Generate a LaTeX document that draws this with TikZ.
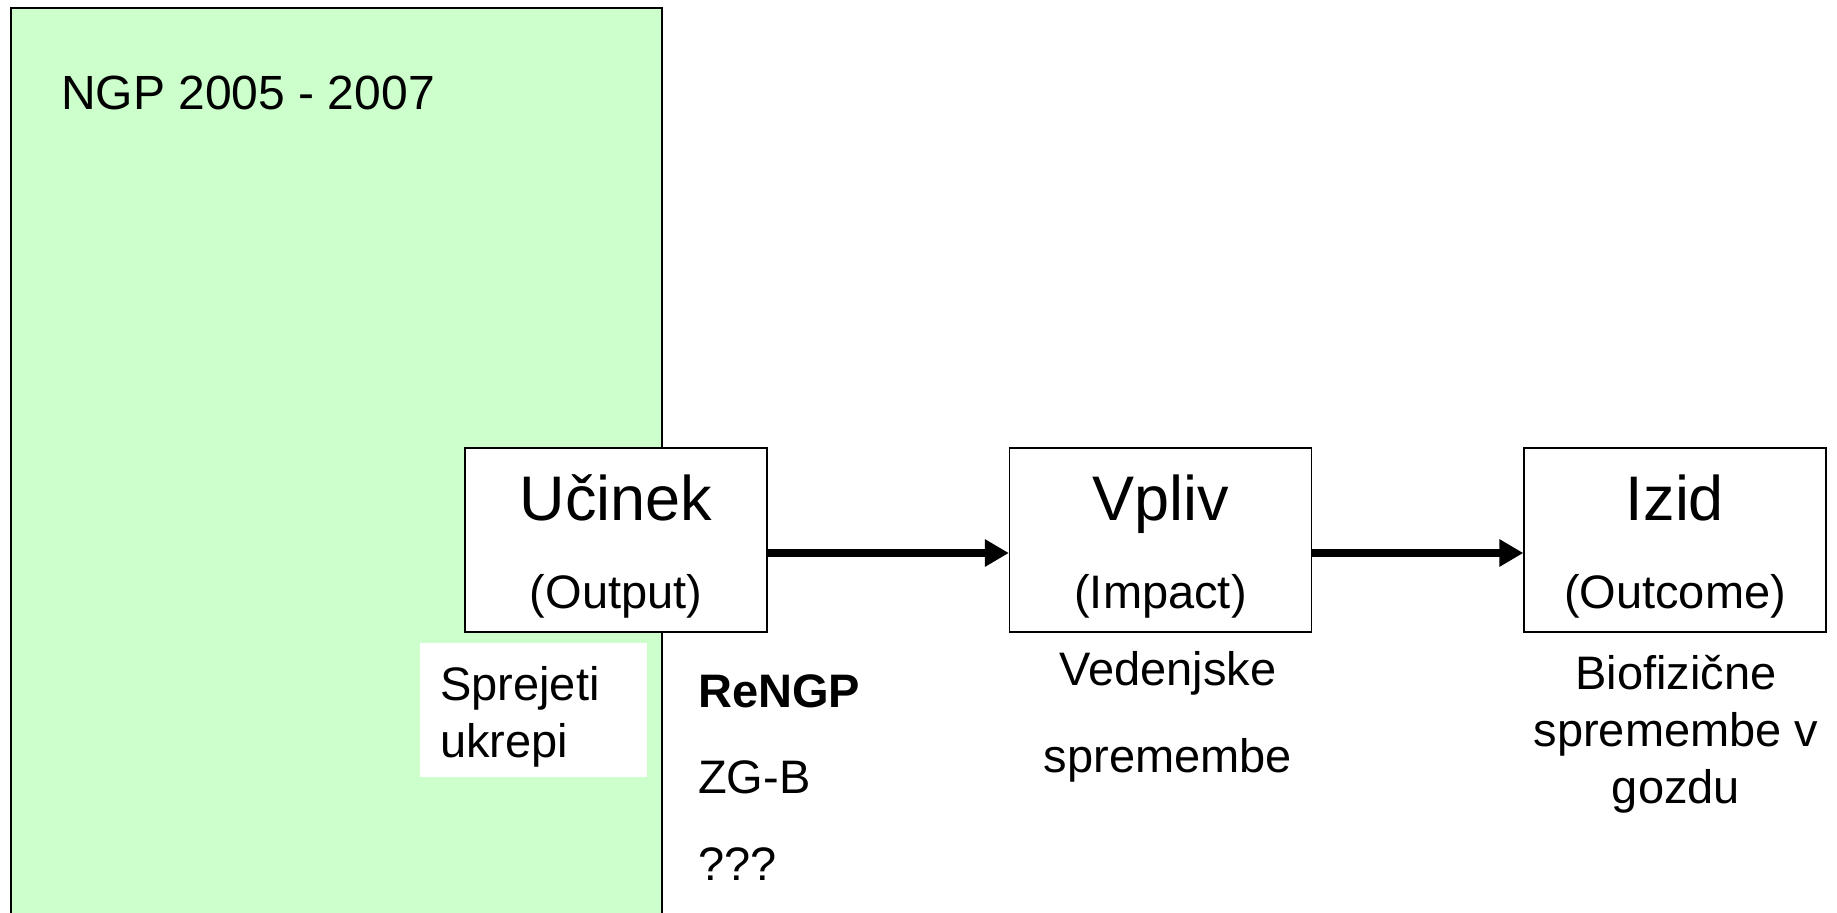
\documentclass[tikz,border=0pt]{standalone}
\usepackage{fontspec}
\setmainfont{Liberation Sans}
\usetikzlibrary{arrows.meta}
\definecolor{lightgreen}{RGB}{204,255,204}
\begin{document}
\begin{tikzpicture}[x=1pt,y=-1pt,
  box/.style={draw=black,line width=1.3pt,fill=white,minimum width=302pt,minimum height=184pt,inner sep=0pt},
  big/.style={font=\fontsize{63}{75}\selectfont,inner sep=0pt,anchor=base},
  small/.style={font=\fontsize{47}{57}\selectfont,inner sep=0pt},
  flow/.style={line width=7.5pt,-{Triangle[length=24pt,width=26pt]}}]
\useasboundingbox (0,0) rectangle (1837,913);
\draw[fill=lightgreen,line width=1.3pt] (11,8) rectangle (662,940);
\node[small,anchor=base west,font=\fontsize{48}{57}\selectfont] (ngp) at (61,109) {NGP 2005 - 2007};
\node[fill=white,minimum width=227pt,minimum height=134pt,inner sep=0pt] (sprbox) at (533.5,710) {};
\node[small,anchor=base west,align=left] (sprejeti) at (440,757) {Sprejeti\\ukrepi};

\node[box] (ucinek) at (616,540) {};
\node[box] (vpliv) at (1160.5,540) {};
\node[box] (izid) at (1675,540) {};

\node[big] (ucinekT) at (616,520) {Učinek};
\node[small,anchor=base] (ucinekS) at (616,608) {(Output)};
\node[big] (vplivT) at (1160.5,520) {Vpliv};
\node[small,anchor=base] (vplivS) at (1160.5,608) {(Impact)};
\node[big] (izidT) at (1675,520) {Izid};
\node[small,anchor=base] (izidS) at (1675,608) {(Outcome)};

\draw[flow] ([yshift=-13pt]ucinek.east) -- ([yshift=-13pt]vpliv.west);
\draw[flow] ([yshift=-13pt]vpliv.east) -- ([yshift=-13pt]izid.west);

\node[small,anchor=base,align=center] (vedenjske) at (1168,772) {Vedenjske\\[30pt]spremembe};
\node[small,anchor=base,align=center] (biofiz) at (1676,803) {Biofizične\\spremembe v\\gozdu};
\node[small,anchor=base west,font=\fontsize{47}{57}\selectfont\bfseries] (rengp) at (698,707) {ReNGP};
\node[small,anchor=base west] (zgb) at (698,793) {ZG-B};
\node[small,anchor=base west] (qqq) at (698,880) {???};
\end{tikzpicture}
\end{document}
